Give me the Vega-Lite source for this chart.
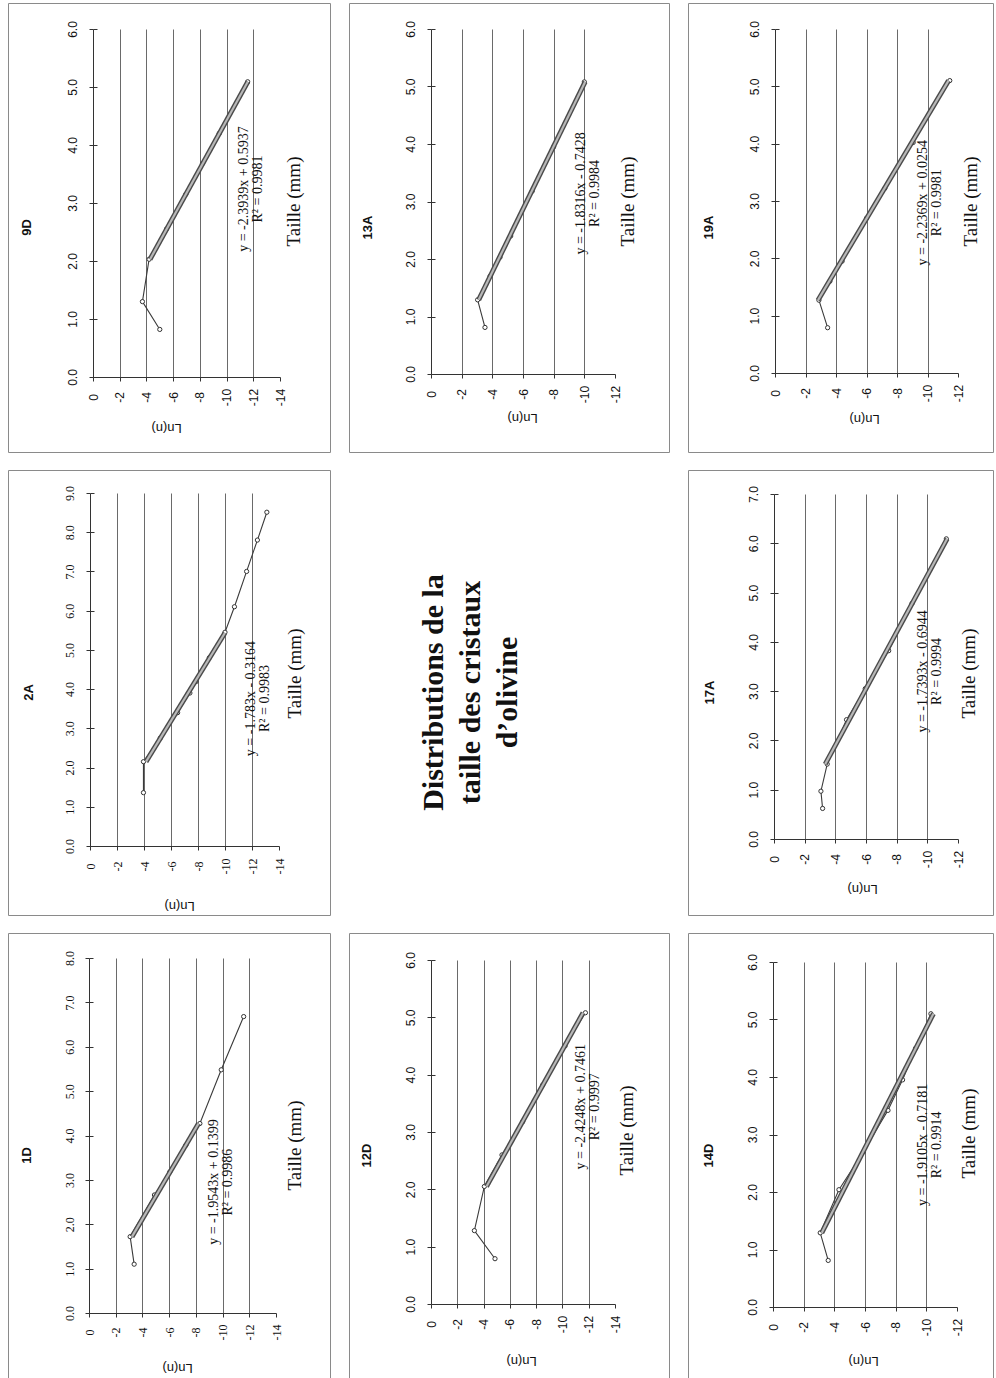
{
  "$schema": "https://vega.github.io/schema/vega-lite/v6.json",
  "background": "white",
  "padding": {"left": 7, "top": 2, "right": 8, "bottom": 3},
  "columns": 3,
  "spacing": {"row": 16, "column": 17},
  "config": {
    "view": {"stroke": "#8a8a8a", "strokeWidth": 1},
    "axis": {"domainColor": "#333", "tickColor": "#333", "gridColor": "#6a6a6a", "gridWidth": 1, "labelColor": "#111", "titleColor": "#111", "labelFlush": false, "labelOverlap": false, "tickSize": 4}
  },
  "concat": [
    {
      "width": 322, "height": 449,
      "title": {"text": "9D", "orient": "left", "anchor": "middle", "offset": -26, "font": "Liberation Sans", "fontSize": 13, "fontWeight": "bold", "color": "#111"},
      "data": {"values": [
        {"s": "d", "Ln": -5.0, "T": 0.82}, {"s": "d", "Ln": -3.7, "T": 1.30}, {"s": "d", "Ln": -4.2, "T": 2.03}, {"s": "d", "Ln": -5.5, "T": 2.55},
        {"s": "d", "Ln": -6.95, "T": 3.15}, {"s": "d", "Ln": -8.2, "T": 3.68}, {"s": "d", "Ln": -9.45, "T": 4.2}, {"s": "d", "Ln": -11.58, "T": 5.09},
        {"s": "t", "Ln": -4.27, "T": 2.03}, {"s": "t", "Ln": -11.59, "T": 5.09},
        {"s": "e", "Ln": -11.8, "T": 3.24, "txt": "y = -2.3939x + 0.5937\nR² = 0.9981"}
      ]},
      "resolve": {"axis": {"x": "independent", "y": "independent"}},
      "layer": [
        {"transform": [{"filter": "datum.s == 'd'"}], "mark": {"type": "line", "color": "#3a3a3a", "strokeWidth": 1.1},
          "encoding": {
            "x": {"field": "Ln", "type": "quantitative", "scale": {"domain": [-14, 0], "range": [272, 85], "nice": false, "zero": false},
              "axis": {"orient": "bottom", "offset": -75, "values": [0, -2, -4, -6, -8, -10, -12, -14], "labelExpr": "datum.value + ''", "labelAngle": -90, "labelAlign": "center", "labelBaseline": "middle", "labelPadding": 16, "labelFont": "Liberation Sans", "labelFontSize": 12, "grid": false, "title": "Ln(n)", "titleAngle": 180, "titleX": 158, "titleY": 50, "titleAlign": "center", "titleBaseline": "middle", "titleFont": "Liberation Sans", "titleFontSize": 13, "titleFontWeight": "normal"}},
            "y": {"field": "T", "type": "quantitative", "scale": {"domain": [0, 6], "range": [374, 26], "nice": false, "zero": false},
              "axis": {"orient": "left", "offset": -85, "values": [0, 1, 2, 3, 4, 5, 6], "labelExpr": "format(datum.value, '.1f')", "labelAngle": -90, "labelAlign": "center", "labelBaseline": "middle", "labelPadding": 17, "labelFont": "Liberation Sans", "labelFontSize": 12, "grid": false, "title": "Taille (mm)", "titleAngle": -90, "titleX": 200, "titleY": 198, "titleAlign": "center", "titleBaseline": "middle", "titleFont": "Liberation Serif", "titleFontSize": 19, "titleFontWeight": "normal"}},
            "order": {"field": "T", "type": "quantitative"}
          }},
        {"transform": [{"filter": "datum.s == 'd'"}], "mark": {"type": "point", "shape": "circle", "filled": true, "fill": "white", "stroke": "#333", "strokeWidth": 1, "size": 18, "opacity": 1},
          "encoding": {
            "x": {"field": "Ln", "type": "quantitative", "axis": {"orient": "top", "offset": 0, "values": [-2, -4, -6, -8, -10, -12], "grid": true, "labels": false, "ticks": false, "domain": false, "title": null}},
            "y": {"field": "T", "type": "quantitative", "axis": {"orient": "left", "offset": -85, "values": [0, 1, 2, 3, 4, 5, 6], "tickSize": -4, "labels": false, "domain": false, "grid": false, "title": null}}
          }},
        {"transform": [{"filter": "datum.s == 't'"}], "mark": {"type": "line", "color": "#4a4a4a", "strokeWidth": 5},
          "encoding": {"x": {"field": "Ln", "type": "quantitative", "axis": null}, "y": {"field": "T", "type": "quantitative", "axis": null}}},
        {"transform": [{"filter": "datum.s == 't'"}], "mark": {"type": "line", "color": "#b8b8b8", "strokeWidth": 2.2},
          "encoding": {"x": {"field": "Ln", "type": "quantitative", "axis": null}, "y": {"field": "T", "type": "quantitative", "axis": null}}},
        {"transform": [{"filter": "datum.s == 'e'"}], "mark": {"type": "text", "angle": -90, "font": "Liberation Serif", "fontSize": 14, "lineHeight": 14, "lineBreak": "\n", "align": "center", "baseline": "middle", "dy": -7, "color": "#111"},
          "encoding": {"x": {"field": "Ln", "type": "quantitative", "axis": null}, "y": {"field": "T", "type": "quantitative", "axis": null}, "text": {"field": "txt", "type": "nominal"}}}
      ]
    },
    {
      "width": 320, "height": 449,
      "title": {"text": "13A", "orient": "left", "anchor": "middle", "offset": -26, "font": "Liberation Sans", "fontSize": 13, "fontWeight": "bold", "color": "#111"},
      "data": {"values": [
        {"s": "d", "Ln": -3.52, "T": 0.81}, {"s": "d", "Ln": -3.04, "T": 1.29}, {"s": "d", "Ln": -3.85, "T": 1.7}, {"s": "d", "Ln": -4.5, "T": 2.03},
        {"s": "d", "Ln": -5.2, "T": 2.4}, {"s": "d", "Ln": -6.6, "T": 3.18}, {"s": "d", "Ln": -8.0, "T": 3.95}, {"s": "d", "Ln": -10.0, "T": 5.08},
        {"s": "t", "Ln": -3.11, "T": 1.29}, {"s": "t", "Ln": -10.05, "T": 5.08},
        {"s": "e", "Ln": -10.24, "T": 3.14, "txt": "y = -1.8316x - 0.7428\nR² = 0.9984"}
      ]},
      "resolve": {"axis": {"x": "independent", "y": "independent"}},
      "layer": [
        {"transform": [{"filter": "datum.s == 'd'"}], "mark": {"type": "line", "color": "#3a3a3a", "strokeWidth": 1.1},
          "encoding": {
            "x": {"field": "Ln", "type": "quantitative", "scale": {"domain": [-12, 0], "range": [266, 82], "nice": false, "zero": false},
              "axis": {"orient": "bottom", "offset": -78, "values": [0, -2, -4, -6, -8, -10, -12], "labelExpr": "datum.value + ''", "labelAngle": -90, "labelAlign": "center", "labelBaseline": "middle", "labelPadding": 16, "labelFont": "Liberation Sans", "labelFontSize": 12, "grid": false, "title": "Ln(n)", "titleAngle": 180, "titleX": 173, "titleY": 43, "titleAlign": "center", "titleBaseline": "middle", "titleFont": "Liberation Sans", "titleFontSize": 13, "titleFontWeight": "normal"}},
            "y": {"field": "T", "type": "quantitative", "scale": {"domain": [0, 6], "range": [371, 26], "nice": false, "zero": false},
              "axis": {"orient": "left", "offset": -82, "values": [0, 1, 2, 3, 4, 5, 6], "labelExpr": "format(datum.value, '.1f')", "labelAngle": -90, "labelAlign": "center", "labelBaseline": "middle", "labelPadding": 17, "labelFont": "Liberation Sans", "labelFontSize": 12, "grid": false, "title": "Taille (mm)", "titleAngle": -90, "titleX": 196, "titleY": 198, "titleAlign": "center", "titleBaseline": "middle", "titleFont": "Liberation Serif", "titleFontSize": 19, "titleFontWeight": "normal"}},
            "order": {"field": "T", "type": "quantitative"}
          }},
        {"transform": [{"filter": "datum.s == 'd'"}], "mark": {"type": "point", "shape": "circle", "filled": true, "fill": "white", "stroke": "#333", "strokeWidth": 1, "size": 18, "opacity": 1},
          "encoding": {
            "x": {"field": "Ln", "type": "quantitative", "axis": {"orient": "top", "offset": 0, "values": [-2, -4, -6, -8, -10], "grid": true, "labels": false, "ticks": false, "domain": false, "title": null}},
            "y": {"field": "T", "type": "quantitative", "axis": {"orient": "left", "offset": -82, "values": [0, 1, 2, 3, 4, 5, 6], "tickSize": -4, "labels": false, "domain": false, "grid": false, "title": null}}
          }},
        {"transform": [{"filter": "datum.s == 't'"}], "mark": {"type": "line", "color": "#4a4a4a", "strokeWidth": 5},
          "encoding": {"x": {"field": "Ln", "type": "quantitative", "axis": null}, "y": {"field": "T", "type": "quantitative", "axis": null}}},
        {"transform": [{"filter": "datum.s == 't'"}], "mark": {"type": "line", "color": "#b8b8b8", "strokeWidth": 2.2},
          "encoding": {"x": {"field": "Ln", "type": "quantitative", "axis": null}, "y": {"field": "T", "type": "quantitative", "axis": null}}},
        {"transform": [{"filter": "datum.s == 'e'"}], "mark": {"type": "text", "angle": -90, "font": "Liberation Serif", "fontSize": 14, "lineHeight": 14, "lineBreak": "\n", "align": "center", "baseline": "middle", "dy": -7, "color": "#111"},
          "encoding": {"x": {"field": "Ln", "type": "quantitative", "axis": null}, "y": {"field": "T", "type": "quantitative", "axis": null}, "text": {"field": "txt", "type": "nominal"}}}
      ]
    },
    {
      "width": 305, "height": 449,
      "title": {"text": "19A", "orient": "left", "anchor": "middle", "offset": -28, "font": "Liberation Sans", "fontSize": 13, "fontWeight": "bold", "color": "#111"},
      "data": {"values": [
        {"s": "d", "Ln": -3.45, "T": 0.79}, {"s": "d", "Ln": -2.88, "T": 1.27}, {"s": "d", "Ln": -3.6, "T": 1.6}, {"s": "d", "Ln": -4.4, "T": 1.95},
        {"s": "d", "Ln": -6.0, "T": 2.7}, {"s": "d", "Ln": -7.2, "T": 3.22}, {"s": "d", "Ln": -9.06, "T": 4.02}, {"s": "d", "Ln": -11.46, "T": 5.10},
        {"s": "t", "Ln": -2.82, "T": 1.27}, {"s": "t", "Ln": -11.38, "T": 5.10},
        {"s": "e", "Ln": -10.18, "T": 2.97, "txt": "y = -2.2369x + 0.0254\nR² = 0.9981"}
      ]},
      "resolve": {"axis": {"x": "independent", "y": "independent"}},
      "layer": [
        {"transform": [{"filter": "datum.s == 'd'"}], "mark": {"type": "line", "color": "#3a3a3a", "strokeWidth": 1.1},
          "encoding": {
            "x": {"field": "Ln", "type": "quantitative", "scale": {"domain": [-12, 0], "range": [270, 87], "nice": false, "zero": false},
              "axis": {"orient": "bottom", "offset": -79, "values": [0, -2, -4, -6, -8, -10, -12], "labelExpr": "datum.value + ''", "labelAngle": -90, "labelAlign": "center", "labelBaseline": "middle", "labelPadding": 16, "labelFont": "Liberation Sans", "labelFontSize": 12, "grid": false, "title": "Ln(n)", "titleAngle": 180, "titleX": 176, "titleY": 45, "titleAlign": "center", "titleBaseline": "middle", "titleFont": "Liberation Sans", "titleFontSize": 13, "titleFontWeight": "normal"}},
            "y": {"field": "T", "type": "quantitative", "scale": {"domain": [0, 6], "range": [370, 26], "nice": false, "zero": false},
              "axis": {"orient": "left", "offset": -87, "values": [0, 1, 2, 3, 4, 5, 6], "labelExpr": "format(datum.value, '.1f')", "labelAngle": -90, "labelAlign": "center", "labelBaseline": "middle", "labelPadding": 17, "labelFont": "Liberation Sans", "labelFontSize": 12, "grid": false, "title": "Taille (mm)", "titleAngle": -90, "titleX": 195, "titleY": 198, "titleAlign": "center", "titleBaseline": "middle", "titleFont": "Liberation Serif", "titleFontSize": 19, "titleFontWeight": "normal"}},
            "order": {"field": "T", "type": "quantitative"}
          }},
        {"transform": [{"filter": "datum.s == 'd'"}], "mark": {"type": "point", "shape": "circle", "filled": true, "fill": "white", "stroke": "#333", "strokeWidth": 1, "size": 18, "opacity": 1},
          "encoding": {
            "x": {"field": "Ln", "type": "quantitative", "axis": {"orient": "top", "offset": 0, "values": [-2, -4, -6, -8, -10], "grid": true, "labels": false, "ticks": false, "domain": false, "title": null}},
            "y": {"field": "T", "type": "quantitative", "axis": {"orient": "left", "offset": -87, "values": [0, 1, 2, 3, 4, 5, 6], "tickSize": -4, "labels": false, "domain": false, "grid": false, "title": null}}
          }},
        {"transform": [{"filter": "datum.s == 't'"}], "mark": {"type": "line", "color": "#4a4a4a", "strokeWidth": 5},
          "encoding": {"x": {"field": "Ln", "type": "quantitative", "axis": null}, "y": {"field": "T", "type": "quantitative", "axis": null}}},
        {"transform": [{"filter": "datum.s == 't'"}], "mark": {"type": "line", "color": "#b8b8b8", "strokeWidth": 2.2},
          "encoding": {"x": {"field": "Ln", "type": "quantitative", "axis": null}, "y": {"field": "T", "type": "quantitative", "axis": null}}},
        {"transform": [{"filter": "datum.s == 'e'"}], "mark": {"type": "text", "angle": -90, "font": "Liberation Serif", "fontSize": 14, "lineHeight": 14, "lineBreak": "\n", "align": "center", "baseline": "middle", "dy": -7, "color": "#111"},
          "encoding": {"x": {"field": "Ln", "type": "quantitative", "axis": null}, "y": {"field": "T", "type": "quantitative", "axis": null}, "text": {"field": "txt", "type": "nominal"}}}
      ]
    },
    {
      "width": 322, "height": 445,
      "title": {"text": "2A", "orient": "left", "anchor": "middle", "offset": -28, "font": "Liberation Sans", "fontSize": 13, "fontWeight": "bold", "color": "#111"},
      "data": {"values": [
        {"s": "d", "Ln": -3.96, "T": 1.36}, {"s": "d", "Ln": -3.96, "T": 2.15}, {"s": "d", "Ln": -5.2, "T": 2.75}, {"s": "d", "Ln": -6.49, "T": 3.40},
        {"s": "d", "Ln": -7.4, "T": 3.9}, {"s": "d", "Ln": -7.85, "T": 4.19}, {"s": "d", "Ln": -8.84, "T": 4.8}, {"s": "d", "Ln": -10.0, "T": 5.45},
        {"s": "d", "Ln": -10.7, "T": 6.1}, {"s": "d", "Ln": -11.6, "T": 7.0}, {"s": "d", "Ln": -12.4, "T": 7.8}, {"s": "d", "Ln": -13.1, "T": 8.51},
        {"s": "t", "Ln": -4.15, "T": 2.15}, {"s": "t", "Ln": -9.99, "T": 5.43},
        {"s": "e", "Ln": -12.45, "T": 3.76, "txt": "y = -1.783x - 0.3164\nR² = 0.9983"}
      ]},
      "resolve": {"axis": {"x": "independent", "y": "independent"}},
      "layer": [
        {"transform": [{"filter": "datum.s == 'd'"}], "mark": {"type": "line", "color": "#3a3a3a", "strokeWidth": 1.1},
          "encoding": {
            "x": {"field": "Ln", "type": "quantitative", "scale": {"domain": [-14, 0], "range": [271, 82], "nice": false, "zero": false},
              "axis": {"orient": "bottom", "offset": -69, "values": [0, -2, -4, -6, -8, -10, -12, -14], "labelExpr": "datum.value + ''", "labelAngle": -90, "labelAlign": "center", "labelBaseline": "middle", "labelPadding": 16, "labelFont": "Liberation Serif", "labelFontSize": 12, "grid": false, "title": "Ln(n)", "titleAngle": 180, "titleX": 171, "titleY": 59, "titleAlign": "center", "titleBaseline": "middle", "titleFont": "Liberation Sans", "titleFontSize": 13, "titleFontWeight": "normal"}},
            "y": {"field": "T", "type": "quantitative", "scale": {"domain": [0, 9], "range": [376, 23], "nice": false, "zero": false},
              "axis": {"orient": "left", "offset": -82, "values": [0, 1, 2, 3, 4, 5, 6, 7, 8, 9], "labelExpr": "format(datum.value, '.1f')", "labelAngle": -90, "labelAlign": "center", "labelBaseline": "middle", "labelPadding": 17, "labelFont": "Liberation Serif", "labelFontSize": 12, "grid": false, "title": "Taille (mm)", "titleAngle": -90, "titleX": 204, "titleY": 203, "titleAlign": "center", "titleBaseline": "middle", "titleFont": "Liberation Serif", "titleFontSize": 19, "titleFontWeight": "normal"}},
            "order": {"field": "T", "type": "quantitative"}
          }},
        {"transform": [{"filter": "datum.s == 'd'"}], "mark": {"type": "point", "shape": "circle", "filled": true, "fill": "white", "stroke": "#333", "strokeWidth": 1, "size": 18, "opacity": 1},
          "encoding": {
            "x": {"field": "Ln", "type": "quantitative", "axis": {"orient": "top", "offset": 0, "values": [-2, -4, -6, -8, -10, -12], "grid": true, "labels": false, "ticks": false, "domain": false, "title": null}},
            "y": {"field": "T", "type": "quantitative", "axis": {"orient": "left", "offset": -82, "values": [0, 1, 2, 3, 4, 5, 6, 7, 8, 9], "tickSize": -4, "labels": false, "domain": false, "grid": false, "title": null}}
          }},
        {"transform": [{"filter": "datum.s == 't'"}], "mark": {"type": "line", "color": "#4a4a4a", "strokeWidth": 5},
          "encoding": {"x": {"field": "Ln", "type": "quantitative", "axis": null}, "y": {"field": "T", "type": "quantitative", "axis": null}}},
        {"transform": [{"filter": "datum.s == 't'"}], "mark": {"type": "line", "color": "#b8b8b8", "strokeWidth": 2.2},
          "encoding": {"x": {"field": "Ln", "type": "quantitative", "axis": null}, "y": {"field": "T", "type": "quantitative", "axis": null}}},
        {"transform": [{"filter": "datum.s == 'e'"}], "mark": {"type": "text", "angle": -90, "font": "Liberation Serif", "fontSize": 14, "lineHeight": 14, "lineBreak": "\n", "align": "center", "baseline": "middle", "dy": -7, "color": "#111"},
          "encoding": {"x": {"field": "Ln", "type": "quantitative", "axis": null}, "y": {"field": "T", "type": "quantitative", "axis": null}, "text": {"field": "txt", "type": "nominal"}}}
      ]
    },
    {
      "width": 320, "height": 445,
      "view": {"stroke": null},
      "data": {"values": [{"t": "Distributions de la\ntaille des cristaux\nd’olivine"}]},
      "mark": {"type": "text", "angle": -90, "font": "Liberation Serif", "fontSize": 30, "fontWeight": "bold", "lineHeight": 37, "lineBreak": "\n", "align": "center", "baseline": "middle", "dy": -75, "color": "#111"},
      "encoding": {"text": {"field": "t", "type": "nominal"}}
    },
    {
      "width": 305, "height": 445,
      "title": {"text": "17A", "orient": "left", "anchor": "middle", "offset": -29, "font": "Liberation Sans", "fontSize": 13, "fontWeight": "bold", "color": "#111"},
      "data": {"values": [
        {"s": "d", "Ln": -3.17, "T": 0.62}, {"s": "d", "Ln": -3.06, "T": 0.97}, {"s": "d", "Ln": -3.47, "T": 1.52}, {"s": "d", "Ln": -4.73, "T": 2.42},
        {"s": "d", "Ln": -5.95, "T": 3.05}, {"s": "d", "Ln": -7.48, "T": 3.82}, {"s": "d", "Ln": -9.0, "T": 4.78}, {"s": "d", "Ln": -11.24, "T": 6.09},
        {"s": "t", "Ln": -3.34, "T": 1.52}, {"s": "t", "Ln": -11.29, "T": 6.09},
        {"s": "e", "Ln": -10.17, "T": 3.40, "txt": "y = -1.7393x - 0.6944\nR² = 0.9994"}
      ]},
      "resolve": {"axis": {"x": "independent", "y": "independent"}},
      "layer": [
        {"transform": [{"filter": "datum.s == 'd'"}], "mark": {"type": "line", "color": "#3a3a3a", "strokeWidth": 1.1},
          "encoding": {
            "x": {"field": "Ln", "type": "quantitative", "scale": {"domain": [-12, 0], "range": [270, 86], "nice": false, "zero": false},
              "axis": {"orient": "bottom", "offset": -76, "values": [0, -2, -4, -6, -8, -10, -12], "labelExpr": "datum.value + ''", "labelAngle": -90, "labelAlign": "center", "labelBaseline": "middle", "labelPadding": 16, "labelFont": "Liberation Sans", "labelFontSize": 12, "grid": false, "title": "Ln(n)", "titleAngle": 180, "titleX": 174, "titleY": 49, "titleAlign": "center", "titleBaseline": "middle", "titleFont": "Liberation Sans", "titleFontSize": 13, "titleFontWeight": "normal"}},
            "y": {"field": "T", "type": "quantitative", "scale": {"domain": [0, 7], "range": [369, 24], "nice": false, "zero": false},
              "axis": {"orient": "left", "offset": -86, "values": [0, 1, 2, 3, 4, 5, 6, 7], "labelExpr": "format(datum.value, '.1f')", "labelAngle": -90, "labelAlign": "center", "labelBaseline": "middle", "labelPadding": 17, "labelFont": "Liberation Sans", "labelFontSize": 12, "grid": false, "title": "Taille (mm)", "titleAngle": -90, "titleX": 194, "titleY": 203, "titleAlign": "center", "titleBaseline": "middle", "titleFont": "Liberation Serif", "titleFontSize": 19, "titleFontWeight": "normal"}},
            "order": {"field": "T", "type": "quantitative"}
          }},
        {"transform": [{"filter": "datum.s == 'd'"}], "mark": {"type": "point", "shape": "circle", "filled": true, "fill": "white", "stroke": "#333", "strokeWidth": 1, "size": 18, "opacity": 1},
          "encoding": {
            "x": {"field": "Ln", "type": "quantitative", "axis": {"orient": "top", "offset": 0, "values": [-2, -4, -6, -8, -10], "grid": true, "labels": false, "ticks": false, "domain": false, "title": null}},
            "y": {"field": "T", "type": "quantitative", "axis": {"orient": "left", "offset": -86, "values": [0, 1, 2, 3, 4, 5, 6, 7], "tickSize": -4, "labels": false, "domain": false, "grid": false, "title": null}}
          }},
        {"transform": [{"filter": "datum.s == 't'"}], "mark": {"type": "line", "color": "#4a4a4a", "strokeWidth": 5},
          "encoding": {"x": {"field": "Ln", "type": "quantitative", "axis": null}, "y": {"field": "T", "type": "quantitative", "axis": null}}},
        {"transform": [{"filter": "datum.s == 't'"}], "mark": {"type": "line", "color": "#b8b8b8", "strokeWidth": 2.2},
          "encoding": {"x": {"field": "Ln", "type": "quantitative", "axis": null}, "y": {"field": "T", "type": "quantitative", "axis": null}}},
        {"transform": [{"filter": "datum.s == 'e'"}], "mark": {"type": "text", "angle": -90, "font": "Liberation Serif", "fontSize": 14, "lineHeight": 14, "lineBreak": "\n", "align": "center", "baseline": "middle", "dy": -7, "color": "#111"},
          "encoding": {"x": {"field": "Ln", "type": "quantitative", "axis": null}, "y": {"field": "T", "type": "quantitative", "axis": null}, "text": {"field": "txt", "type": "nominal"}}}
      ]
    },
    {
      "width": 322, "height": 445,
      "title": {"text": "1D", "orient": "left", "anchor": "middle", "offset": -26, "font": "Liberation Sans", "fontSize": 13, "fontWeight": "bold", "color": "#111"},
      "data": {"values": [
        {"s": "d", "Ln": -3.38, "T": 1.10}, {"s": "d", "Ln": -3.08, "T": 1.72}, {"s": "d", "Ln": -4.9, "T": 2.66}, {"s": "d", "Ln": -6.05, "T": 3.18},
        {"s": "d", "Ln": -7.25, "T": 3.78}, {"s": "d", "Ln": -8.3, "T": 4.27}, {"s": "d", "Ln": -9.9, "T": 5.48}, {"s": "d", "Ln": -11.58, "T": 6.68},
        {"s": "t", "Ln": -3.22, "T": 1.72}, {"s": "t", "Ln": -8.2, "T": 4.27},
        {"s": "e", "Ln": -9.9, "T": 2.95, "txt": "y = -1.9543x + 0.1399\nR² = 0.9986"}
      ]},
      "resolve": {"axis": {"x": "independent", "y": "independent"}},
      "layer": [
        {"transform": [{"filter": "datum.s == 'd'"}], "mark": {"type": "line", "color": "#3a3a3a", "strokeWidth": 1.1},
          "encoding": {
            "x": {"field": "Ln", "type": "quantitative", "scale": {"domain": [-14, 0], "range": [268, 81], "nice": false, "zero": false},
              "axis": {"orient": "bottom", "offset": -65, "values": [0, -2, -4, -6, -8, -10, -12, -14], "labelExpr": "datum.value + ''", "labelAngle": -90, "labelAlign": "center", "labelBaseline": "middle", "labelPadding": 15, "labelFont": "Liberation Serif", "labelFontSize": 12, "grid": false, "title": "Ln(n)", "titleAngle": 180, "titleX": 169, "titleY": 54, "titleAlign": "center", "titleBaseline": "middle", "titleFont": "Liberation Sans", "titleFontSize": 13, "titleFontWeight": "normal"}},
            "y": {"field": "T", "type": "quantitative", "scale": {"domain": [0, 8], "range": [380, 25], "nice": false, "zero": false},
              "axis": {"orient": "left", "offset": -81, "values": [0, 1, 2, 3, 4, 5, 6, 7, 8], "labelExpr": "format(datum.value, '.1f')", "labelAngle": -90, "labelAlign": "center", "labelBaseline": "middle", "labelPadding": 16, "labelFont": "Liberation Serif", "labelFontSize": 12, "grid": false, "title": "Taille (mm)", "titleAngle": -90, "titleX": 205, "titleY": 212, "titleAlign": "center", "titleBaseline": "middle", "titleFont": "Liberation Serif", "titleFontSize": 19, "titleFontWeight": "normal"}},
            "order": {"field": "T", "type": "quantitative"}
          }},
        {"transform": [{"filter": "datum.s == 'd'"}], "mark": {"type": "point", "shape": "circle", "filled": true, "fill": "white", "stroke": "#333", "strokeWidth": 1, "size": 18, "opacity": 1},
          "encoding": {
            "x": {"field": "Ln", "type": "quantitative", "axis": {"orient": "top", "offset": 0, "values": [-2, -4, -6, -8, -10, -12], "grid": true, "labels": false, "ticks": false, "domain": false, "title": null}},
            "y": {"field": "T", "type": "quantitative", "axis": {"orient": "left", "offset": -81, "values": [0, 1, 2, 3, 4, 5, 6, 7, 8], "tickSize": -4, "labels": false, "domain": false, "grid": false, "title": null}}
          }},
        {"transform": [{"filter": "datum.s == 't'"}], "mark": {"type": "line", "color": "#4a4a4a", "strokeWidth": 5},
          "encoding": {"x": {"field": "Ln", "type": "quantitative", "axis": null}, "y": {"field": "T", "type": "quantitative", "axis": null}}},
        {"transform": [{"filter": "datum.s == 't'"}], "mark": {"type": "line", "color": "#b8b8b8", "strokeWidth": 2.2},
          "encoding": {"x": {"field": "Ln", "type": "quantitative", "axis": null}, "y": {"field": "T", "type": "quantitative", "axis": null}}},
        {"transform": [{"filter": "datum.s == 'e'"}], "mark": {"type": "text", "angle": -90, "font": "Liberation Serif", "fontSize": 14, "lineHeight": 14, "lineBreak": "\n", "align": "center", "baseline": "middle", "dy": -7, "color": "#111"},
          "encoding": {"x": {"field": "Ln", "type": "quantitative", "axis": null}, "y": {"field": "T", "type": "quantitative", "axis": null}, "text": {"field": "txt", "type": "nominal"}}}
      ]
    },
    {
      "width": 320, "height": 445,
      "title": {"text": "12D", "orient": "left", "anchor": "middle", "offset": -25, "font": "Liberation Sans", "fontSize": 13, "fontWeight": "bold", "color": "#111"},
      "data": {"values": [
        {"s": "d", "Ln": -4.87, "T": 0.79}, {"s": "d", "Ln": -3.30, "T": 1.28}, {"s": "d", "Ln": -4.06, "T": 2.05}, {"s": "d", "Ln": -5.4, "T": 2.6},
        {"s": "d", "Ln": -6.98, "T": 3.18}, {"s": "d", "Ln": -8.5, "T": 3.82}, {"s": "d", "Ln": -10.2, "T": 4.5}, {"s": "d", "Ln": -11.75, "T": 5.08},
        {"s": "t", "Ln": -4.22, "T": 2.05}, {"s": "t", "Ln": -11.57, "T": 5.08},
        {"s": "e", "Ln": -11.98, "T": 3.44, "txt": "y = -2.4248x + 0.7461\nR² = 0.9997"}
      ]},
      "resolve": {"axis": {"x": "independent", "y": "independent"}},
      "layer": [
        {"transform": [{"filter": "datum.s == 'd'"}], "mark": {"type": "line", "color": "#3a3a3a", "strokeWidth": 1.1},
          "encoding": {
            "x": {"field": "Ln", "type": "quantitative", "scale": {"domain": [-14, 0], "range": [266, 82], "nice": false, "zero": false},
              "axis": {"orient": "bottom", "offset": -74, "values": [0, -2, -4, -6, -8, -10, -12, -14], "labelExpr": "datum.value + ''", "labelAngle": -90, "labelAlign": "center", "labelBaseline": "middle", "labelPadding": 16, "labelFont": "Liberation Sans", "labelFontSize": 12, "grid": false, "title": "Ln(n)", "titleAngle": 180, "titleX": 172, "titleY": 56, "titleAlign": "center", "titleBaseline": "middle", "titleFont": "Liberation Sans", "titleFontSize": 13, "titleFontWeight": "normal"}},
            "y": {"field": "T", "type": "quantitative", "scale": {"domain": [0, 6], "range": [371, 27], "nice": false, "zero": false},
              "axis": {"orient": "left", "offset": -82, "values": [0, 1, 2, 3, 4, 5, 6], "labelExpr": "format(datum.value, '.1f')", "labelAngle": -90, "labelAlign": "center", "labelBaseline": "middle", "labelPadding": 17, "labelFont": "Liberation Sans", "labelFontSize": 12, "grid": false, "title": "Taille (mm)", "titleAngle": -90, "titleX": 195, "titleY": 197, "titleAlign": "center", "titleBaseline": "middle", "titleFont": "Liberation Serif", "titleFontSize": 19, "titleFontWeight": "normal"}},
            "order": {"field": "T", "type": "quantitative"}
          }},
        {"transform": [{"filter": "datum.s == 'd'"}], "mark": {"type": "point", "shape": "circle", "filled": true, "fill": "white", "stroke": "#333", "strokeWidth": 1, "size": 18, "opacity": 1},
          "encoding": {
            "x": {"field": "Ln", "type": "quantitative", "axis": {"orient": "top", "offset": 0, "values": [-2, -4, -6, -8, -10, -12], "grid": true, "labels": false, "ticks": false, "domain": false, "title": null}},
            "y": {"field": "T", "type": "quantitative", "axis": {"orient": "left", "offset": -82, "values": [0, 1, 2, 3, 4, 5, 6], "tickSize": -4, "labels": false, "domain": false, "grid": false, "title": null}}
          }},
        {"transform": [{"filter": "datum.s == 't'"}], "mark": {"type": "line", "color": "#4a4a4a", "strokeWidth": 5},
          "encoding": {"x": {"field": "Ln", "type": "quantitative", "axis": null}, "y": {"field": "T", "type": "quantitative", "axis": null}}},
        {"transform": [{"filter": "datum.s == 't'"}], "mark": {"type": "line", "color": "#b8b8b8", "strokeWidth": 2.2},
          "encoding": {"x": {"field": "Ln", "type": "quantitative", "axis": null}, "y": {"field": "T", "type": "quantitative", "axis": null}}},
        {"transform": [{"filter": "datum.s == 'e'"}], "mark": {"type": "text", "angle": -90, "font": "Liberation Serif", "fontSize": 14, "lineHeight": 14, "lineBreak": "\n", "align": "center", "baseline": "middle", "dy": -7, "color": "#111"},
          "encoding": {"x": {"field": "Ln", "type": "quantitative", "axis": null}, "y": {"field": "T", "type": "quantitative", "axis": null}, "text": {"field": "txt", "type": "nominal"}}}
      ]
    },
    {
      "width": 305, "height": 445,
      "title": {"text": "14D", "orient": "left", "anchor": "middle", "offset": -28, "font": "Liberation Sans", "fontSize": 13, "fontWeight": "bold", "color": "#111"},
      "data": {"values": [
        {"s": "d", "Ln": -3.6, "T": 0.81}, {"s": "d", "Ln": -3.08, "T": 1.29}, {"s": "d", "Ln": -4.3, "T": 2.04}, {"s": "d", "Ln": -5.9, "T": 2.7},
        {"s": "d", "Ln": -7.5, "T": 3.42}, {"s": "d", "Ln": -8.45, "T": 3.95}, {"s": "d", "Ln": -9.3, "T": 4.5}, {"s": "d", "Ln": -10.3, "T": 5.10},
        {"s": "t", "Ln": -3.18, "T": 1.29}, {"s": "t", "Ln": -10.46, "T": 5.10},
        {"s": "e", "Ln": -10.22, "T": 2.82, "txt": "y = -1.9105x - 0.7181\nR² = 0.9914"}
      ]},
      "resolve": {"axis": {"x": "independent", "y": "independent"}},
      "layer": [
        {"transform": [{"filter": "datum.s == 'd'"}], "mark": {"type": "line", "color": "#3a3a3a", "strokeWidth": 1.1},
          "encoding": {
            "x": {"field": "Ln", "type": "quantitative", "scale": {"domain": [-12, 0], "range": [269, 85], "nice": false, "zero": false},
              "axis": {"orient": "bottom", "offset": -71, "values": [0, -2, -4, -6, -8, -10, -12], "labelExpr": "datum.value + ''", "labelAngle": -90, "labelAlign": "center", "labelBaseline": "middle", "labelPadding": 16, "labelFont": "Liberation Sans", "labelFontSize": 12, "grid": false, "title": "Ln(n)", "titleAngle": 180, "titleX": 175, "titleY": 53, "titleAlign": "center", "titleBaseline": "middle", "titleFont": "Liberation Sans", "titleFontSize": 13, "titleFontWeight": "normal"}},
            "y": {"field": "T", "type": "quantitative", "scale": {"domain": [0, 6], "range": [374, 29], "nice": false, "zero": false},
              "axis": {"orient": "left", "offset": -85, "values": [0, 1, 2, 3, 4, 5, 6], "labelExpr": "format(datum.value, '.1f')", "labelAngle": -90, "labelAlign": "center", "labelBaseline": "middle", "labelPadding": 17, "labelFont": "Liberation Sans", "labelFontSize": 12, "grid": false, "title": "Taille (mm)", "titleAngle": -90, "titleX": 195, "titleY": 200, "titleAlign": "center", "titleBaseline": "middle", "titleFont": "Liberation Serif", "titleFontSize": 19, "titleFontWeight": "normal"}},
            "order": {"field": "T", "type": "quantitative"}
          }},
        {"transform": [{"filter": "datum.s == 'd'"}], "mark": {"type": "point", "shape": "circle", "filled": true, "fill": "white", "stroke": "#333", "strokeWidth": 1, "size": 18, "opacity": 1},
          "encoding": {
            "x": {"field": "Ln", "type": "quantitative", "axis": {"orient": "top", "offset": 0, "values": [-2, -4, -6, -8, -10], "grid": true, "labels": false, "ticks": false, "domain": false, "title": null}},
            "y": {"field": "T", "type": "quantitative", "axis": {"orient": "left", "offset": -85, "values": [0, 1, 2, 3, 4, 5, 6], "tickSize": -4, "labels": false, "domain": false, "grid": false, "title": null}}
          }},
        {"transform": [{"filter": "datum.s == 't'"}], "mark": {"type": "line", "color": "#4a4a4a", "strokeWidth": 5},
          "encoding": {"x": {"field": "Ln", "type": "quantitative", "axis": null}, "y": {"field": "T", "type": "quantitative", "axis": null}}},
        {"transform": [{"filter": "datum.s == 't'"}], "mark": {"type": "line", "color": "#b8b8b8", "strokeWidth": 2.2},
          "encoding": {"x": {"field": "Ln", "type": "quantitative", "axis": null}, "y": {"field": "T", "type": "quantitative", "axis": null}}},
        {"transform": [{"filter": "datum.s == 'e'"}], "mark": {"type": "text", "angle": -90, "font": "Liberation Serif", "fontSize": 14, "lineHeight": 14, "lineBreak": "\n", "align": "center", "baseline": "middle", "dy": -7, "color": "#111"},
          "encoding": {"x": {"field": "Ln", "type": "quantitative", "axis": null}, "y": {"field": "T", "type": "quantitative", "axis": null}, "text": {"field": "txt", "type": "nominal"}}}
      ]
    }
  ]
}
